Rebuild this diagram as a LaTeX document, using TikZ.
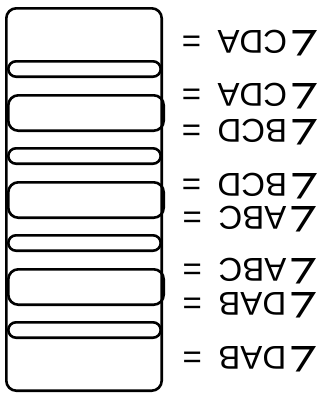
\documentclass[tikz,border=0pt]{standalone}
\usepackage{fontspec}
\setmainfont{Liberation Sans}
\newfontfamily\symfont{DejaVu Sans}
\newcommand\ang{{\fontsize{35}{33}\selectfont\symfont ∠}\hspace{0.05em}}
\begin{document}
\begin{tikzpicture}[x=1pt,y=-1pt,
  frame/.style={line width=2.6pt, rounded corners=10pt},
  band/.style={line width=2.6pt, rounded corners=7.7pt},
  eqlabel/.style={rotate=180, inner sep=0pt, font=\fontsize{33}{33}\selectfont}]

  \useasboundingbox (0,0) rectangle (329,397);
  \newcommand\Pd{87}

  % outer strip
  \draw[frame] (6.3,8.3) rectangle (161.7,390.7);
  % thin bands
  \foreach \k in {0,...,3}
    \draw[band] (8.3,61.3+\k*\Pd) rectangle (160.7,76.7+\k*\Pd);
  % wide bands
  \foreach \k in {0,1,2}
    \draw[frame] (8.3,95.3+\k*\Pd) rectangle (163.7,130.7+\k*\Pd);

  % labels, upside down
  \node[eqlabel] (cdaA) at (251,43)  {\ang CDA\hspace{0.5em}=};
  \node[eqlabel] (cdaB) at (251,96)  {\ang CDA\hspace{0.5em}=};
  \node[eqlabel] (bcdA) at (251,132) {\ang BCD\hspace{0.5em}=};
  \node[eqlabel] (bcdB) at (251,186) {\ang BCD\hspace{0.5em}=};
  \node[eqlabel] (abcA) at (251,219) {\ang ABC\hspace{0.5em}=};
  \node[eqlabel] (abcB) at (251,271) {\ang ABC\hspace{0.5em}=};
  \node[eqlabel] (dabA) at (251,305) {\ang DAB\hspace{0.5em}=};
  \node[eqlabel] (dabB) at (251,359) {\ang DAB\hspace{0.5em}=};
\end{tikzpicture}
\end{document}
